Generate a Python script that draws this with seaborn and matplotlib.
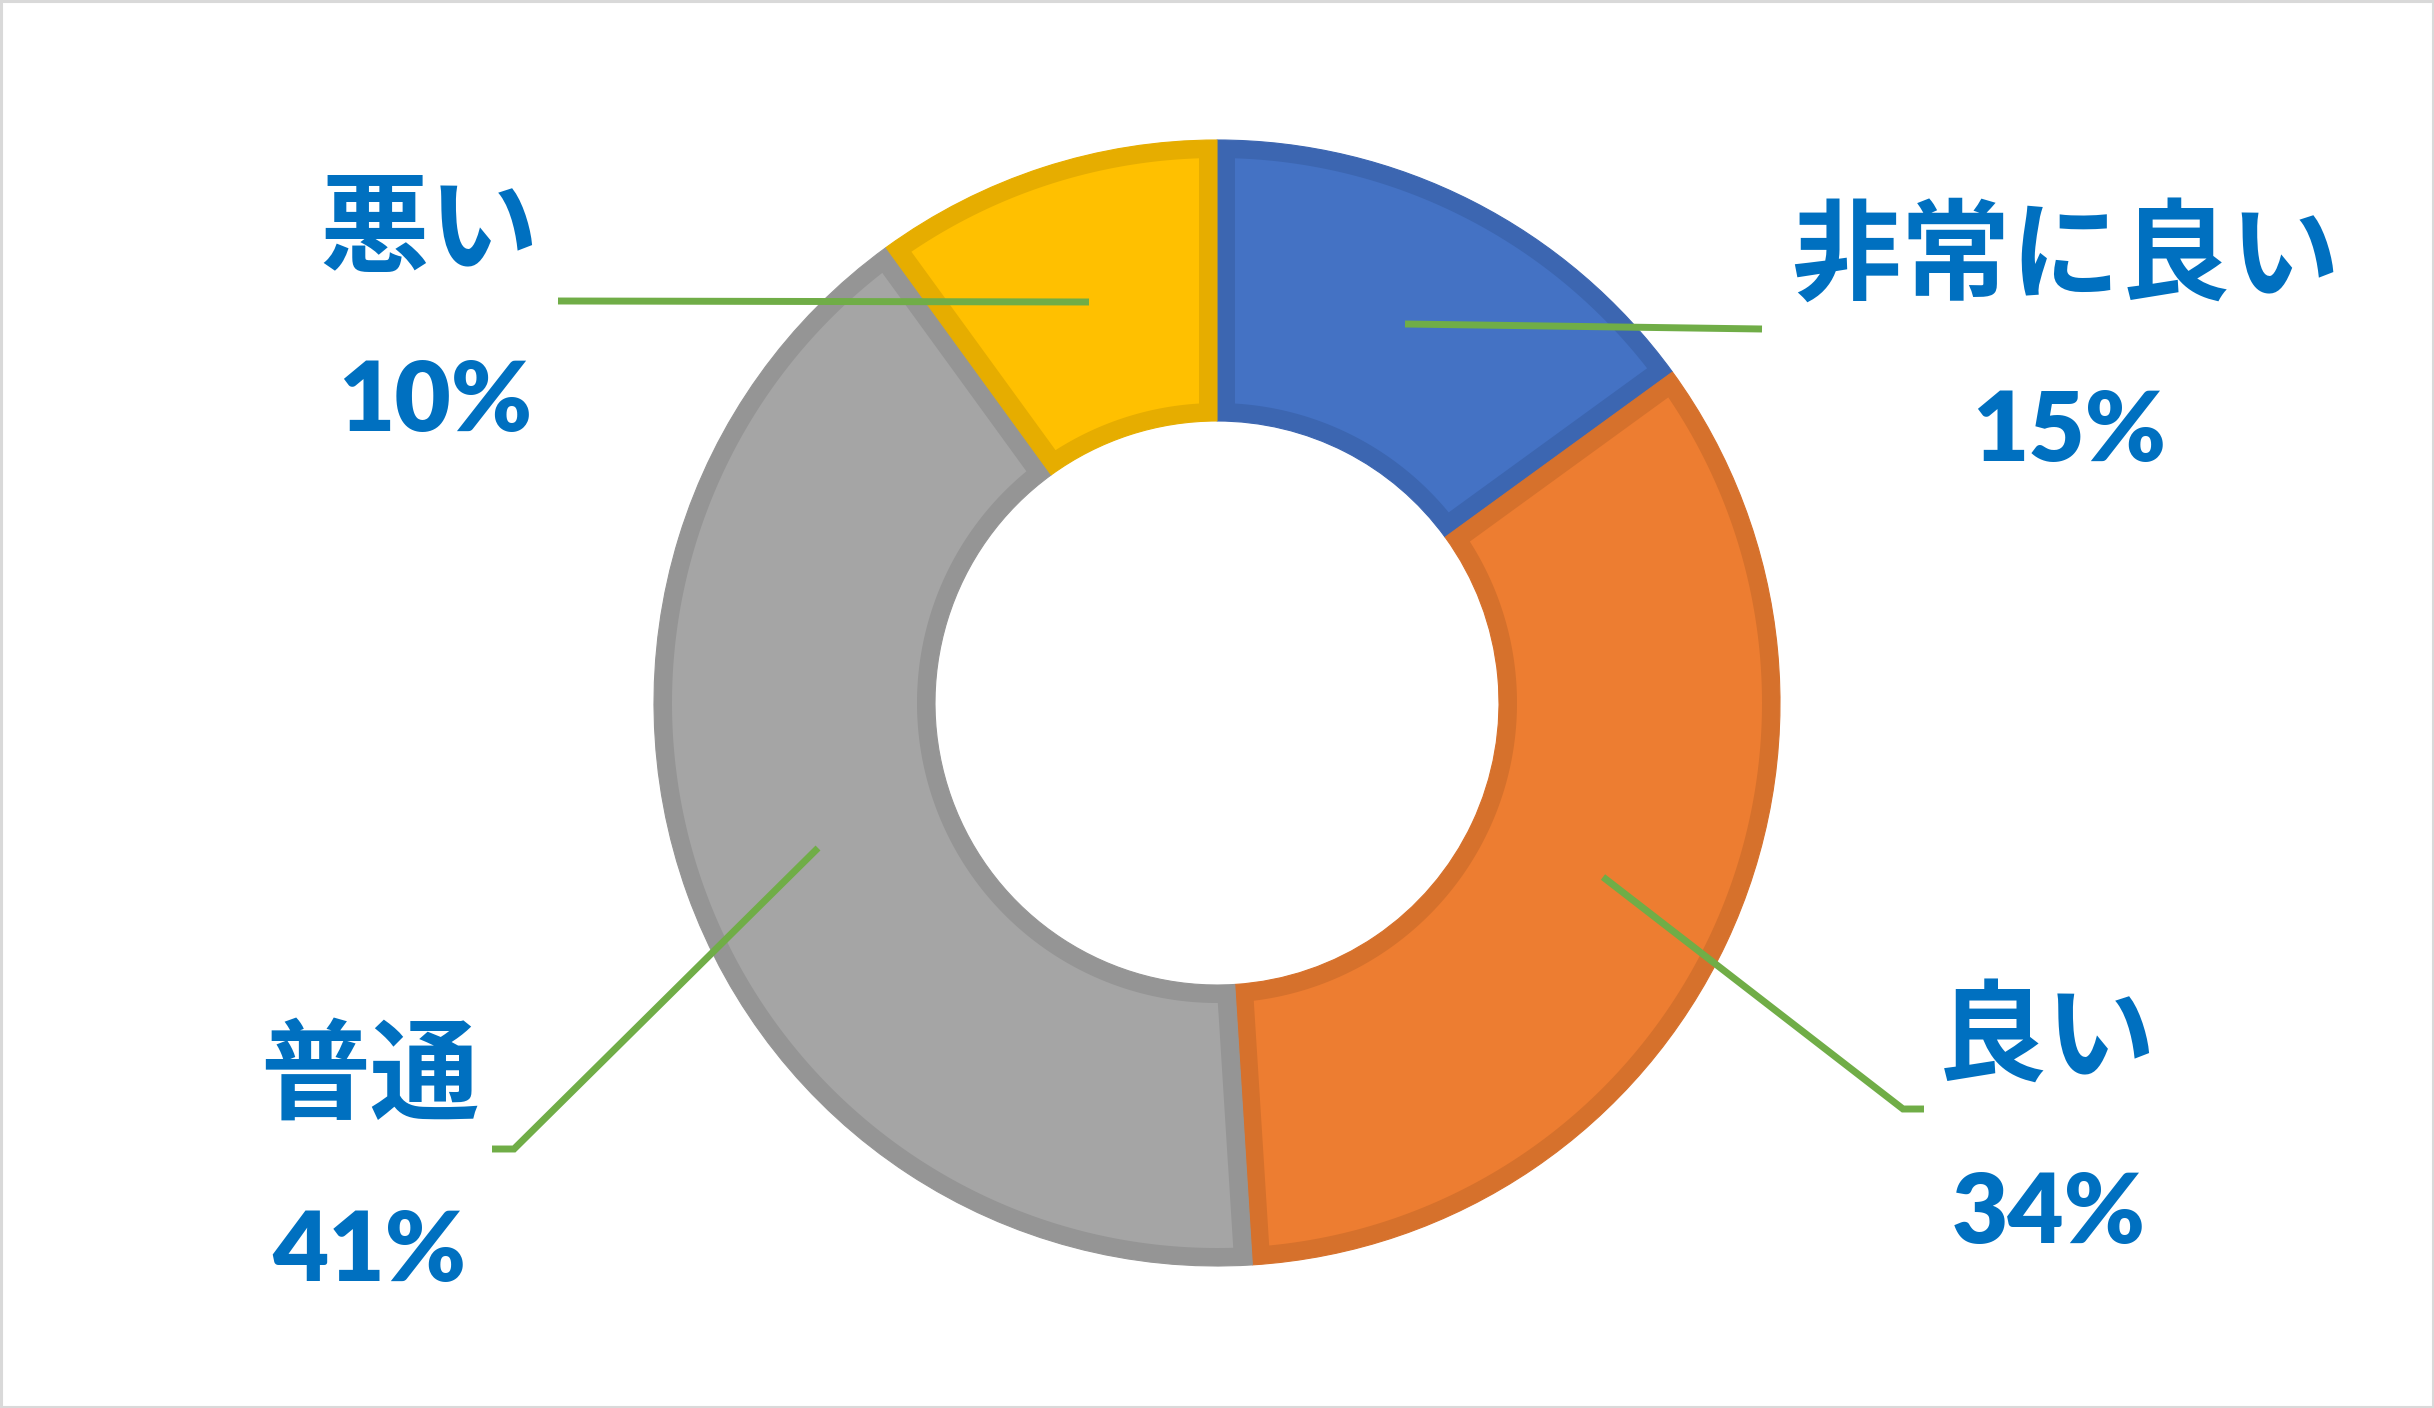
import matplotlib
matplotlib.use("Agg")
import numpy as np
import matplotlib.pyplot as plt
from matplotlib.patches import Rectangle
from matplotlib import font_manager
import seaborn as sns

# ---- data ----
categories = ['非常に良い', '良い', '普通', '悪い']
values = [15, 34, 41, 10]
pct_labels = ['15%', '34%', '41%', '10%']

# ---- style ----
fill_colors = ['#4472C4', '#ED7D31', '#A5A5A5', '#FFC000']
edge_colors = ['#3C66B1', '#D6712C', '#959595', '#E6AD00']
text_color = '#0070C0'
leader_color = '#70AD47'

sns.set_theme(style="white")
plt.rcParams['font.family'] = ['Noto Sans CJK JP', 'DejaVu Sans']

W, H = 2434, 1408
fig = plt.figure(figsize=(W / 100, H / 100), dpi=100)
fig.patch.set_facecolor('white')
ax = fig.add_axes([0, 0, 1, 1])

def Y(y):
    return H - y

cx, cy = 1217, Y(703)
r_outer = 563
r_inner = 282
stroke = 18  # inner stroke width in pixels

# outer (darker) band: full wedges in the edge colour
wedges, _ = ax.pie(values, colors=sns.color_palette(edge_colors), startangle=90,
                   counterclock=False, center=(cx, cy), radius=r_outer, frame=True,
                   wedgeprops=dict(width=r_outer - r_inner, linewidth=0.8))
for w in wedges:
    w.set_edgecolor(w.get_facecolor())

# inner lighter fill: each wedge inset by the stroke width
for w, fc in zip(wedges, sns.color_palette(fill_colors)):
    t1, t2 = w.theta1, w.theta2
    ro = w.r - stroke
    ri = w.r - w.width + stroke
    a_o = np.degrees(np.arcsin(stroke / ro))
    a_i = np.degrees(np.arcsin(stroke / ri))
    th_o = np.radians(np.linspace(t1 + a_o, t2 - a_o, 300))
    th_i = np.radians(np.linspace(t2 - a_i, t1 + a_i, 300))
    xs = np.concatenate([w.center[0] + ro * np.cos(th_o), w.center[0] + ri * np.cos(th_i)])
    ys = np.concatenate([w.center[1] + ro * np.sin(th_o), w.center[1] + ri * np.sin(th_i)])
    ax.fill(xs, ys, color=fc, lw=0, zorder=2)

ax.set_xlim(0, W)
ax.set_ylim(0, H)
ax.set_aspect('equal')
ax.axis('off')

# ---- labels (layout positions in pixels) ----
name_pos = [(2066, 259), (2047, 1040), (370, 1079), (429, 233)]
pct_pos = [(2069, 432), (2049, 1214), (369, 1253), (435, 403)]
leaders = [
    [(1405, 324), (1762, 329)],
    [(1603, 877), (1903, 1109), (1924, 1109)],
    [(818, 848), (514, 1149), (492, 1149)],
    [(1089, 302), (558, 301)],
]

avail = {f.name for f in font_manager.fontManager.ttflist}
pct_family = [f for f in ['Liberation Sans Narrow', 'Lato'] if f in avail] + ['DejaVu Sans']

for name, pct, npos, ppos, ld in zip(categories, pct_labels, name_pos, pct_pos, leaders):
    ax.text(npos[0], Y(npos[1]), name, ha='center', va='center', color=text_color,
            fontsize=79, fontweight='bold', family=['Noto Sans CJK JP', 'DejaVu Sans'],
            zorder=5)
    ax.text(ppos[0], Y(ppos[1]), pct, ha='center', va='center', color=text_color,
            fontsize=70, fontweight='heavy', family=pct_family, zorder=5)
    xs = [p[0] for p in ld]
    ys = [Y(p[1]) for p in ld]
    ax.plot(xs, ys, color=leader_color, lw=5.0, solid_capstyle='butt',
            solid_joinstyle='miter', zorder=4)

# outer border
fig.patches.append(Rectangle((0.0005, 0.001), 0.999, 0.998, transform=fig.transFigure,
                             fill=False, edgecolor='#D9D9D9', linewidth=2.2))

fig.savefig('out.png', dpi=100, facecolor='white')
